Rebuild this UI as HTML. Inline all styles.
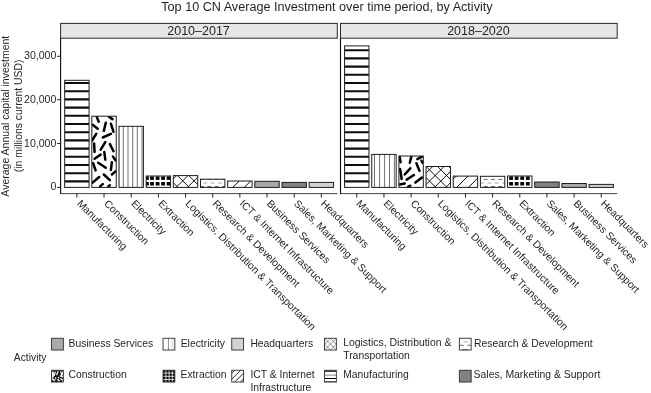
<!DOCTYPE html>
<html><head><meta charset="utf-8"><title>Top 10 CN Average Investment</title>
<style>
html,body{margin:0;padding:0;background:#fff;}
svg{display:block;}
text{font-family:"Liberation Sans",sans-serif;fill:#231f20;}
</style></head><body>
<svg width="651" height="393" viewBox="0 0 651 393">
<rect x="0" y="0" width="651" height="393" fill="#fff"/>

<text x="161.3" y="11.2" font-size="12.62">Top 10 CN Average Investment over time period, by Activity</text>
<text transform="translate(8.8,116.2) rotate(-90)" text-anchor="middle" font-size="10.5">Average Annual capital investment</text>
<text transform="translate(21.8,115.9) rotate(-90)" text-anchor="middle" font-size="10.4">(in millions current USD)</text>
<rect x="60.6" y="23.4" width="276.70" height="14.80" fill="#e6e6e6" stroke="#2a2a2a" stroke-width="1.0"/>
<text x="198.55" y="34.7" text-anchor="middle" font-size="12.5">2010–2017</text>
<line x1="60.6" x2="60.6" y1="38.2" y2="194.1" stroke="#0a0a0a" stroke-width="1.1"/>
<line x1="60.2" x2="337.3" y1="193.6" y2="193.6" stroke="#222" stroke-width="0.85"/>
<clipPath id="c0"><rect x="64.68" y="80.30" width="24.40" height="107.10"/></clipPath>
<rect x="64.68" y="80.30" width="24.40" height="107.10" fill="#fff"/>
<g clip-path="url(#c0)"><line x1="64.68" x2="89.08" y1="181.40" y2="181.40" stroke="#0d0d0d" stroke-width="2.1"/><line x1="64.68" x2="89.08" y1="173.20" y2="173.20" stroke="#0d0d0d" stroke-width="2.1"/><line x1="64.68" x2="89.08" y1="165.00" y2="165.00" stroke="#0d0d0d" stroke-width="2.1"/><line x1="64.68" x2="89.08" y1="156.80" y2="156.80" stroke="#0d0d0d" stroke-width="2.1"/><line x1="64.68" x2="89.08" y1="148.60" y2="148.60" stroke="#0d0d0d" stroke-width="2.1"/><line x1="64.68" x2="89.08" y1="140.40" y2="140.40" stroke="#0d0d0d" stroke-width="2.1"/><line x1="64.68" x2="89.08" y1="132.20" y2="132.20" stroke="#0d0d0d" stroke-width="2.1"/><line x1="64.68" x2="89.08" y1="124.00" y2="124.00" stroke="#0d0d0d" stroke-width="2.1"/><line x1="64.68" x2="89.08" y1="115.80" y2="115.80" stroke="#0d0d0d" stroke-width="2.1"/><line x1="64.68" x2="89.08" y1="107.60" y2="107.60" stroke="#0d0d0d" stroke-width="2.1"/><line x1="64.68" x2="89.08" y1="99.40" y2="99.40" stroke="#0d0d0d" stroke-width="2.1"/><line x1="64.68" x2="89.08" y1="91.20" y2="91.20" stroke="#0d0d0d" stroke-width="2.1"/><line x1="64.68" x2="89.08" y1="83.00" y2="83.00" stroke="#0d0d0d" stroke-width="2.1"/></g>
<rect x="64.68" y="80.30" width="24.40" height="107.10" fill="none" stroke="#1c1c1c" stroke-width="1.0"/>
<line x1="76.88" x2="76.88" y1="193.6" y2="197.5" stroke="#151515" stroke-width="0.95"/>
<text transform="translate(76.48,204.15) rotate(45)" font-size="10.38">Manufacturing</text>
<clipPath id="c1"><rect x="91.84" y="116.20" width="24.40" height="71.20"/></clipPath>
<rect x="91.84" y="116.20" width="24.40" height="71.20" fill="#fff"/>
<g clip-path="url(#c1)"><line x1="96.7" y1="116.6" x2="98.7" y2="121.7" stroke="#000" stroke-width="2.5" stroke-linecap="round"/><line x1="108.9" y1="116.6" x2="112.5" y2="119.1" stroke="#000" stroke-width="2.5" stroke-linecap="round"/><line x1="92.6" y1="124.7" x2="97.7" y2="128.8" stroke="#000" stroke-width="2.5" stroke-linecap="round"/><line x1="105.8" y1="122.7" x2="103.8" y2="130.9" stroke="#000" stroke-width="2.5" stroke-linecap="round"/><line x1="110.9" y1="123.7" x2="113.5" y2="131.9" stroke="#000" stroke-width="2.5" stroke-linecap="round"/><line x1="96.2" y1="133.9" x2="92.1" y2="140.5" stroke="#000" stroke-width="2.5" stroke-linecap="round"/><line x1="102.8" y1="137.5" x2="110.9" y2="133.9" stroke="#000" stroke-width="2.5" stroke-linecap="round"/><line x1="105.3" y1="142.1" x2="100.7" y2="149.7" stroke="#000" stroke-width="2.5" stroke-linecap="round"/><line x1="109.9" y1="144.1" x2="113.5" y2="151.2" stroke="#000" stroke-width="2.5" stroke-linecap="round"/><line x1="94.1" y1="143.6" x2="94.6" y2="151.8" stroke="#000" stroke-width="2.5" stroke-linecap="round"/><line x1="104.3" y1="152" x2="105.3" y2="159.7" stroke="#000" stroke-width="2.5" stroke-linecap="round"/><line x1="94.6" y1="158.7" x2="100.7" y2="154.6" stroke="#000" stroke-width="2.5" stroke-linecap="round"/><line x1="113" y1="156.6" x2="115.5" y2="160.2" stroke="#000" stroke-width="2.5" stroke-linecap="round"/><line x1="93.1" y1="163.2" x2="95.6" y2="170.4" stroke="#000" stroke-width="2.5" stroke-linecap="round"/><line x1="98.2" y1="162.7" x2="105.8" y2="167.8" stroke="#000" stroke-width="2.5" stroke-linecap="round"/><line x1="111.9" y1="162.2" x2="110.9" y2="169.9" stroke="#000" stroke-width="2.5" stroke-linecap="round"/><line x1="111.9" y1="174.5" x2="115.5" y2="171.4" stroke="#000" stroke-width="2.5" stroke-linecap="round"/><line x1="103.8" y1="174.5" x2="109.9" y2="180.1" stroke="#000" stroke-width="2.5" stroke-linecap="round"/><line x1="92.6" y1="182.6" x2="99.2" y2="177" stroke="#000" stroke-width="2.5" stroke-linecap="round"/><line x1="100.2" y1="186.2" x2="102.8" y2="184.1" stroke="#000" stroke-width="2.5" stroke-linecap="round"/><line x1="108.4" y1="186.2" x2="109.9" y2="185.2" stroke="#000" stroke-width="2.5" stroke-linecap="round"/></g>
<rect x="91.84" y="116.20" width="24.40" height="71.20" fill="none" stroke="#1c1c1c" stroke-width="1.0"/>
<line x1="104.04" x2="104.04" y1="193.6" y2="197.5" stroke="#151515" stroke-width="0.95"/>
<text transform="translate(103.57,204.15) rotate(45)" font-size="10.38">Construction</text>
<clipPath id="c2"><rect x="119.01" y="126.30" width="24.40" height="61.10"/></clipPath>
<rect x="119.01" y="126.30" width="24.40" height="61.10" fill="#fff"/>
<g clip-path="url(#c2)"><line x1="118.6" x2="118.6" y1="126.3" y2="187.4" stroke="#5a5a5a" stroke-width="0.85"/><line x1="123.3" x2="123.3" y1="126.3" y2="187.4" stroke="#5a5a5a" stroke-width="0.85"/><line x1="128.0" x2="128.0" y1="126.3" y2="187.4" stroke="#5a5a5a" stroke-width="0.85"/><line x1="132.7" x2="132.7" y1="126.3" y2="187.4" stroke="#5a5a5a" stroke-width="0.85"/><line x1="137.3" x2="137.3" y1="126.3" y2="187.4" stroke="#5a5a5a" stroke-width="0.85"/><line x1="142.0" x2="142.0" y1="126.3" y2="187.4" stroke="#5a5a5a" stroke-width="0.85"/></g>
<rect x="119.01" y="126.30" width="24.40" height="61.10" fill="none" stroke="#1c1c1c" stroke-width="1.0"/>
<line x1="131.21" x2="131.21" y1="193.6" y2="197.5" stroke="#151515" stroke-width="0.95"/>
<text transform="translate(130.67,204.15) rotate(45)" font-size="10.38">Electricity</text>
<clipPath id="c3"><rect x="146.18" y="176.00" width="24.40" height="11.40"/></clipPath>
<rect x="146.18" y="176.00" width="24.40" height="11.40" fill="#fff"/>
<g clip-path="url(#c3)"><rect x="145.0" y="176.4" width="3.8" height="3.5" fill="#000"/><rect x="145.0" y="182.0" width="3.8" height="3.5" fill="#000"/><rect x="150.1" y="176.4" width="3.8" height="3.5" fill="#000"/><rect x="150.1" y="182.0" width="3.8" height="3.5" fill="#000"/><rect x="155.7" y="176.4" width="3.8" height="3.5" fill="#000"/><rect x="155.7" y="182.0" width="3.8" height="3.5" fill="#000"/><rect x="161.2" y="176.4" width="3.8" height="3.5" fill="#000"/><rect x="161.2" y="182.0" width="3.8" height="3.5" fill="#000"/><rect x="166.7" y="176.4" width="3.8" height="3.5" fill="#000"/><rect x="166.7" y="182.0" width="3.8" height="3.5" fill="#000"/></g>
<rect x="146.18" y="176.00" width="24.40" height="11.40" fill="none" stroke="#1c1c1c" stroke-width="1.0"/>
<line x1="158.38" x2="158.38" y1="193.6" y2="197.5" stroke="#151515" stroke-width="0.95"/>
<text transform="translate(157.76,204.15) rotate(45)" font-size="10.38">Extraction</text>
<clipPath id="c4"><rect x="173.34" y="175.60" width="24.40" height="11.80"/></clipPath>
<rect x="173.34" y="175.60" width="24.40" height="11.80" fill="#fff"/>
<g clip-path="url(#c4)"><line x1="159.80" y1="192.40" x2="181.60" y2="170.60" stroke="#050505" stroke-width="0.95"/><line x1="171.10" y1="192.40" x2="192.90" y2="170.60" stroke="#050505" stroke-width="0.95"/><line x1="182.40" y1="192.40" x2="204.20" y2="170.60" stroke="#050505" stroke-width="0.95"/><line x1="193.70" y1="192.40" x2="215.50" y2="170.60" stroke="#050505" stroke-width="0.95"/><line x1="161.20" y1="170.60" x2="183.00" y2="192.40" stroke="#050505" stroke-width="0.95"/><line x1="172.50" y1="170.60" x2="194.30" y2="192.40" stroke="#050505" stroke-width="0.95"/><line x1="183.80" y1="170.60" x2="205.60" y2="192.40" stroke="#050505" stroke-width="0.95"/><line x1="195.10" y1="170.60" x2="216.90" y2="192.40" stroke="#050505" stroke-width="0.95"/><line x1="206.40" y1="170.60" x2="228.20" y2="192.40" stroke="#050505" stroke-width="0.95"/></g>
<rect x="173.34" y="175.60" width="24.40" height="11.80" fill="none" stroke="#1c1c1c" stroke-width="1.0"/>
<line x1="185.54" x2="185.54" y1="193.6" y2="197.5" stroke="#151515" stroke-width="0.95"/>
<text transform="translate(184.86,204.15) rotate(45)" font-size="10.5">Logistics, Distribution &amp; Transportation</text>
<clipPath id="c5"><rect x="200.50" y="179.20" width="24.40" height="8.20"/></clipPath>
<rect x="200.50" y="179.20" width="24.40" height="8.20" fill="#fff"/>
<g clip-path="url(#c5)"><line x1="188.80" x2="192.60" y1="183" y2="183" stroke="#c4c4c4" stroke-width="1.7"/><line x1="192.90" x2="196.70" y1="179.4" y2="179.4" stroke="#444" stroke-width="0.8"/><line x1="192.90" x2="196.70" y1="186.5" y2="186.5" stroke="#444" stroke-width="0.8"/><line x1="196.10" x2="199.90" y1="183" y2="183" stroke="#c4c4c4" stroke-width="1.7"/><line x1="200.20" x2="204.00" y1="179.4" y2="179.4" stroke="#444" stroke-width="0.8"/><line x1="200.20" x2="204.00" y1="186.5" y2="186.5" stroke="#444" stroke-width="0.8"/><line x1="203.40" x2="207.20" y1="183" y2="183" stroke="#c4c4c4" stroke-width="1.7"/><line x1="207.50" x2="211.30" y1="179.4" y2="179.4" stroke="#444" stroke-width="0.8"/><line x1="207.50" x2="211.30" y1="186.5" y2="186.5" stroke="#444" stroke-width="0.8"/><line x1="210.70" x2="214.50" y1="183" y2="183" stroke="#c4c4c4" stroke-width="1.7"/><line x1="214.80" x2="218.60" y1="179.4" y2="179.4" stroke="#444" stroke-width="0.8"/><line x1="214.80" x2="218.60" y1="186.5" y2="186.5" stroke="#444" stroke-width="0.8"/><line x1="218.00" x2="221.80" y1="183" y2="183" stroke="#c4c4c4" stroke-width="1.7"/><line x1="222.10" x2="225.90" y1="179.4" y2="179.4" stroke="#444" stroke-width="0.8"/><line x1="222.10" x2="225.90" y1="186.5" y2="186.5" stroke="#444" stroke-width="0.8"/><line x1="225.30" x2="229.10" y1="183" y2="183" stroke="#c4c4c4" stroke-width="1.7"/><line x1="229.40" x2="233.20" y1="179.4" y2="179.4" stroke="#444" stroke-width="0.8"/><line x1="229.40" x2="233.20" y1="186.5" y2="186.5" stroke="#444" stroke-width="0.8"/><line x1="232.60" x2="236.40" y1="183" y2="183" stroke="#c4c4c4" stroke-width="1.7"/><line x1="236.70" x2="240.50" y1="179.4" y2="179.4" stroke="#444" stroke-width="0.8"/><line x1="236.70" x2="240.50" y1="186.5" y2="186.5" stroke="#444" stroke-width="0.8"/><line x1="239.90" x2="243.70" y1="183" y2="183" stroke="#c4c4c4" stroke-width="1.7"/><line x1="244.00" x2="247.80" y1="179.4" y2="179.4" stroke="#444" stroke-width="0.8"/><line x1="244.00" x2="247.80" y1="186.5" y2="186.5" stroke="#444" stroke-width="0.8"/></g>
<rect x="200.50" y="179.20" width="24.40" height="8.20" fill="none" stroke="#1c1c1c" stroke-width="1.0"/>
<line x1="212.70" x2="212.70" y1="193.6" y2="197.5" stroke="#151515" stroke-width="0.95"/>
<text transform="translate(211.95,204.15) rotate(45)" font-size="10.38">Research &amp; Development</text>
<clipPath id="c6"><rect x="227.67" y="181.00" width="24.40" height="6.40"/></clipPath>
<rect x="227.67" y="181.00" width="24.40" height="6.40" fill="#fff"/>
<g clip-path="url(#c6)"><line x1="216.30" y1="192.40" x2="232.70" y2="176.00" stroke="#050505" stroke-width="1.0"/><line x1="227.80" y1="192.40" x2="244.20" y2="176.00" stroke="#050505" stroke-width="1.0"/><line x1="239.30" y1="192.40" x2="255.70" y2="176.00" stroke="#050505" stroke-width="1.0"/><line x1="250.80" y1="192.40" x2="267.20" y2="176.00" stroke="#050505" stroke-width="1.0"/></g>
<rect x="227.67" y="181.00" width="24.40" height="6.40" fill="none" stroke="#1c1c1c" stroke-width="1.0"/>
<line x1="239.87" x2="239.87" y1="193.6" y2="197.5" stroke="#151515" stroke-width="0.95"/>
<text transform="translate(239.05,204.15) rotate(45)" font-size="10.38">ICT &amp; Internet Infrastructure</text>
<clipPath id="c7"><rect x="254.83" y="181.30" width="24.40" height="6.10"/></clipPath>
<rect x="254.83" y="181.30" width="24.40" height="6.10" fill="#a8a9ad"/>
<rect x="254.83" y="181.30" width="24.40" height="6.10" fill="none" stroke="#1c1c1c" stroke-width="1.0"/>
<line x1="267.03" x2="267.03" y1="193.6" y2="197.5" stroke="#151515" stroke-width="0.95"/>
<text transform="translate(266.14,204.15) rotate(45)" font-size="10.38">Business Services</text>
<clipPath id="c8"><rect x="282.00" y="182.40" width="24.40" height="5.00"/></clipPath>
<rect x="282.00" y="182.40" width="24.40" height="5.00" fill="#818286"/>
<rect x="282.00" y="182.40" width="24.40" height="5.00" fill="none" stroke="#1c1c1c" stroke-width="1.0"/>
<line x1="294.20" x2="294.20" y1="193.6" y2="197.5" stroke="#151515" stroke-width="0.95"/>
<text transform="translate(293.24,204.15) rotate(45)" font-size="10.38">Sales, Marketing &amp; Support</text>
<clipPath id="c9"><rect x="309.17" y="182.40" width="24.40" height="5.00"/></clipPath>
<rect x="309.17" y="182.40" width="24.40" height="5.00" fill="#d1d3d4"/>
<rect x="309.17" y="182.40" width="24.40" height="5.00" fill="none" stroke="#1c1c1c" stroke-width="1.0"/>
<line x1="321.37" x2="321.37" y1="193.6" y2="197.5" stroke="#151515" stroke-width="0.95"/>
<text transform="translate(320.34,204.15) rotate(45)" font-size="10.38">Headquarters</text>
<rect x="340.5" y="23.4" width="276.70" height="14.80" fill="#e6e6e6" stroke="#2a2a2a" stroke-width="1.0"/>
<text x="478.45" y="34.7" text-anchor="middle" font-size="12.5">2018–2020</text>
<line x1="340.5" x2="340.5" y1="38.2" y2="194.1" stroke="#0a0a0a" stroke-width="1.1"/>
<line x1="340.1" x2="617.2" y1="193.6" y2="193.6" stroke="#222" stroke-width="0.85"/>
<clipPath id="c10"><rect x="344.58" y="45.90" width="24.40" height="141.50"/></clipPath>
<rect x="344.58" y="45.90" width="24.40" height="141.50" fill="#fff"/>
<g clip-path="url(#c10)"><line x1="344.58" x2="368.98" y1="181.40" y2="181.40" stroke="#0d0d0d" stroke-width="2.1"/><line x1="344.58" x2="368.98" y1="173.20" y2="173.20" stroke="#0d0d0d" stroke-width="2.1"/><line x1="344.58" x2="368.98" y1="165.00" y2="165.00" stroke="#0d0d0d" stroke-width="2.1"/><line x1="344.58" x2="368.98" y1="156.80" y2="156.80" stroke="#0d0d0d" stroke-width="2.1"/><line x1="344.58" x2="368.98" y1="148.60" y2="148.60" stroke="#0d0d0d" stroke-width="2.1"/><line x1="344.58" x2="368.98" y1="140.40" y2="140.40" stroke="#0d0d0d" stroke-width="2.1"/><line x1="344.58" x2="368.98" y1="132.20" y2="132.20" stroke="#0d0d0d" stroke-width="2.1"/><line x1="344.58" x2="368.98" y1="124.00" y2="124.00" stroke="#0d0d0d" stroke-width="2.1"/><line x1="344.58" x2="368.98" y1="115.80" y2="115.80" stroke="#0d0d0d" stroke-width="2.1"/><line x1="344.58" x2="368.98" y1="107.60" y2="107.60" stroke="#0d0d0d" stroke-width="2.1"/><line x1="344.58" x2="368.98" y1="99.40" y2="99.40" stroke="#0d0d0d" stroke-width="2.1"/><line x1="344.58" x2="368.98" y1="91.20" y2="91.20" stroke="#0d0d0d" stroke-width="2.1"/><line x1="344.58" x2="368.98" y1="83.00" y2="83.00" stroke="#0d0d0d" stroke-width="2.1"/><line x1="344.58" x2="368.98" y1="74.80" y2="74.80" stroke="#0d0d0d" stroke-width="2.1"/><line x1="344.58" x2="368.98" y1="66.60" y2="66.60" stroke="#0d0d0d" stroke-width="2.1"/><line x1="344.58" x2="368.98" y1="58.40" y2="58.40" stroke="#0d0d0d" stroke-width="2.1"/><line x1="344.58" x2="368.98" y1="50.20" y2="50.20" stroke="#0d0d0d" stroke-width="2.1"/></g>
<rect x="344.58" y="45.90" width="24.40" height="141.50" fill="none" stroke="#1c1c1c" stroke-width="1.0"/>
<line x1="356.78" x2="356.78" y1="193.6" y2="197.5" stroke="#151515" stroke-width="0.95"/>
<text transform="translate(355.78,204.15) rotate(45)" font-size="10.38">Manufacturing</text>
<clipPath id="c11"><rect x="371.75" y="154.40" width="24.40" height="33.00"/></clipPath>
<rect x="371.75" y="154.40" width="24.40" height="33.00" fill="#fff"/>
<g clip-path="url(#c11)"><line x1="374.5" x2="374.5" y1="154.4" y2="187.4" stroke="#5a5a5a" stroke-width="0.85"/><line x1="379.6" x2="379.6" y1="154.4" y2="187.4" stroke="#5a5a5a" stroke-width="0.85"/><line x1="384.6" x2="384.6" y1="154.4" y2="187.4" stroke="#5a5a5a" stroke-width="0.85"/><line x1="389.5" x2="389.5" y1="154.4" y2="187.4" stroke="#5a5a5a" stroke-width="0.85"/><line x1="394.4" x2="394.4" y1="154.4" y2="187.4" stroke="#5a5a5a" stroke-width="0.85"/></g>
<rect x="371.75" y="154.40" width="24.40" height="33.00" fill="none" stroke="#1c1c1c" stroke-width="1.0"/>
<line x1="383.94" x2="383.94" y1="193.6" y2="197.5" stroke="#151515" stroke-width="0.95"/>
<text transform="translate(382.94,204.15) rotate(45)" font-size="10.38">Electricity</text>
<clipPath id="c12"><rect x="398.91" y="156.00" width="24.40" height="31.40"/></clipPath>
<rect x="398.91" y="156.00" width="24.40" height="31.40" fill="#fff"/>
<g clip-path="url(#c12)"><line x1="399.6" y1="156.6" x2="400.6" y2="162.2" stroke="#000" stroke-width="2.5" stroke-linecap="round"/><line x1="411.3" y1="156.6" x2="409.8" y2="162.7" stroke="#000" stroke-width="2.5" stroke-linecap="round"/><line x1="417.4" y1="159.2" x2="422" y2="156.6" stroke="#000" stroke-width="2.5" stroke-linecap="round"/><line x1="416.4" y1="163.2" x2="419.5" y2="170.9" stroke="#000" stroke-width="2.5" stroke-linecap="round"/><line x1="421.5" y1="160.7" x2="422.5" y2="162.7" stroke="#000" stroke-width="2.5" stroke-linecap="round"/><line x1="410.3" y1="168.3" x2="404.7" y2="174.5" stroke="#000" stroke-width="2.5" stroke-linecap="round"/><line x1="400.1" y1="168.9" x2="401.6" y2="179" stroke="#000" stroke-width="2.5" stroke-linecap="round"/><line x1="413.9" y1="175" x2="406.7" y2="179.6" stroke="#000" stroke-width="2.5" stroke-linecap="round"/><line x1="422" y1="177.5" x2="415.4" y2="182.6" stroke="#000" stroke-width="2.5" stroke-linecap="round"/><line x1="399.6" y1="184.6" x2="404.7" y2="183.6" stroke="#000" stroke-width="2.5" stroke-linecap="round"/><line x1="408.3" y1="186.7" x2="410.3" y2="185.7" stroke="#000" stroke-width="2.5" stroke-linecap="round"/></g>
<rect x="398.91" y="156.00" width="24.40" height="31.40" fill="none" stroke="#1c1c1c" stroke-width="1.0"/>
<line x1="411.11" x2="411.11" y1="193.6" y2="197.5" stroke="#151515" stroke-width="0.95"/>
<text transform="translate(410.11,204.15) rotate(45)" font-size="10.38">Construction</text>
<clipPath id="c13"><rect x="426.07" y="166.50" width="24.40" height="20.90"/></clipPath>
<rect x="426.07" y="166.50" width="24.40" height="20.90" fill="#fff"/>
<g clip-path="url(#c13)"><line x1="395.50" y1="192.40" x2="426.40" y2="161.50" stroke="#050505" stroke-width="0.95"/><line x1="406.80" y1="192.40" x2="437.70" y2="161.50" stroke="#050505" stroke-width="0.95"/><line x1="418.20" y1="192.40" x2="449.10" y2="161.50" stroke="#050505" stroke-width="0.95"/><line x1="429.50" y1="192.40" x2="460.40" y2="161.50" stroke="#050505" stroke-width="0.95"/><line x1="440.80" y1="192.40" x2="471.70" y2="161.50" stroke="#050505" stroke-width="0.95"/><line x1="443.80" y1="161.50" x2="474.70" y2="192.40" stroke="#050505" stroke-width="0.95"/><line x1="432.50" y1="161.50" x2="463.40" y2="192.40" stroke="#050505" stroke-width="0.95"/><line x1="421.10" y1="161.50" x2="452.00" y2="192.40" stroke="#050505" stroke-width="0.95"/><line x1="409.90" y1="161.50" x2="440.80" y2="192.40" stroke="#050505" stroke-width="0.95"/><line x1="398.60" y1="161.50" x2="429.50" y2="192.40" stroke="#050505" stroke-width="0.95"/></g>
<rect x="426.07" y="166.50" width="24.40" height="20.90" fill="none" stroke="#1c1c1c" stroke-width="1.0"/>
<line x1="438.27" x2="438.27" y1="193.6" y2="197.5" stroke="#151515" stroke-width="0.95"/>
<text transform="translate(437.27,204.15) rotate(45)" font-size="10.5">Logistics, Distribution &amp; Transportation</text>
<clipPath id="c14"><rect x="453.24" y="176.10" width="24.40" height="11.30"/></clipPath>
<rect x="453.24" y="176.10" width="24.40" height="11.30" fill="#fff"/>
<g clip-path="url(#c14)"><line x1="439.95" y1="192.40" x2="461.25" y2="171.10" stroke="#050505" stroke-width="1.0"/><line x1="451.70" y1="192.40" x2="473.00" y2="171.10" stroke="#050505" stroke-width="1.0"/><line x1="463.40" y1="192.40" x2="484.70" y2="171.10" stroke="#050505" stroke-width="1.0"/><line x1="475.15" y1="192.40" x2="496.45" y2="171.10" stroke="#050505" stroke-width="1.0"/></g>
<rect x="453.24" y="176.10" width="24.40" height="11.30" fill="none" stroke="#1c1c1c" stroke-width="1.0"/>
<line x1="465.44" x2="465.44" y1="193.6" y2="197.5" stroke="#151515" stroke-width="0.95"/>
<text transform="translate(464.44,204.15) rotate(45)" font-size="10.38">ICT &amp; Internet Infrastructure</text>
<clipPath id="c15"><rect x="480.40" y="176.30" width="24.40" height="11.10"/></clipPath>
<rect x="480.40" y="176.30" width="24.40" height="11.10" fill="#fff"/>
<g clip-path="url(#c15)"><line x1="472.90" x2="476.70" y1="183" y2="183" stroke="#c4c4c4" stroke-width="1.7"/><line x1="469.20" x2="473.00" y1="179.4" y2="179.4" stroke="#444" stroke-width="0.8"/><line x1="469.20" x2="473.00" y1="186.5" y2="186.5" stroke="#444" stroke-width="0.8"/><line x1="480.20" x2="484.00" y1="183" y2="183" stroke="#c4c4c4" stroke-width="1.7"/><line x1="476.50" x2="480.30" y1="179.4" y2="179.4" stroke="#444" stroke-width="0.8"/><line x1="476.50" x2="480.30" y1="186.5" y2="186.5" stroke="#444" stroke-width="0.8"/><line x1="487.50" x2="491.30" y1="183" y2="183" stroke="#c4c4c4" stroke-width="1.7"/><line x1="483.80" x2="487.60" y1="179.4" y2="179.4" stroke="#444" stroke-width="0.8"/><line x1="483.80" x2="487.60" y1="186.5" y2="186.5" stroke="#444" stroke-width="0.8"/><line x1="494.80" x2="498.60" y1="183" y2="183" stroke="#c4c4c4" stroke-width="1.7"/><line x1="491.10" x2="494.90" y1="179.4" y2="179.4" stroke="#444" stroke-width="0.8"/><line x1="491.10" x2="494.90" y1="186.5" y2="186.5" stroke="#444" stroke-width="0.8"/><line x1="502.10" x2="505.90" y1="183" y2="183" stroke="#c4c4c4" stroke-width="1.7"/><line x1="498.40" x2="502.20" y1="179.4" y2="179.4" stroke="#444" stroke-width="0.8"/><line x1="498.40" x2="502.20" y1="186.5" y2="186.5" stroke="#444" stroke-width="0.8"/><line x1="509.40" x2="513.20" y1="183" y2="183" stroke="#c4c4c4" stroke-width="1.7"/><line x1="505.70" x2="509.50" y1="179.4" y2="179.4" stroke="#444" stroke-width="0.8"/><line x1="505.70" x2="509.50" y1="186.5" y2="186.5" stroke="#444" stroke-width="0.8"/><line x1="516.70" x2="520.50" y1="183" y2="183" stroke="#c4c4c4" stroke-width="1.7"/><line x1="513.00" x2="516.80" y1="179.4" y2="179.4" stroke="#444" stroke-width="0.8"/><line x1="513.00" x2="516.80" y1="186.5" y2="186.5" stroke="#444" stroke-width="0.8"/><line x1="524.00" x2="527.80" y1="183" y2="183" stroke="#c4c4c4" stroke-width="1.7"/><line x1="520.30" x2="524.10" y1="179.4" y2="179.4" stroke="#444" stroke-width="0.8"/><line x1="520.30" x2="524.10" y1="186.5" y2="186.5" stroke="#444" stroke-width="0.8"/></g>
<rect x="480.40" y="176.30" width="24.40" height="11.10" fill="none" stroke="#1c1c1c" stroke-width="1.0"/>
<line x1="492.60" x2="492.60" y1="193.6" y2="197.5" stroke="#151515" stroke-width="0.95"/>
<text transform="translate(491.60,204.15) rotate(45)" font-size="10.38">Research &amp; Development</text>
<clipPath id="c16"><rect x="507.57" y="176.00" width="24.40" height="11.40"/></clipPath>
<rect x="507.57" y="176.00" width="24.40" height="11.40" fill="#fff"/>
<g clip-path="url(#c16)"><rect x="509.2" y="176.4" width="3.8" height="3.5" fill="#000"/><rect x="509.2" y="182.0" width="3.8" height="3.5" fill="#000"/><rect x="514.7" y="176.4" width="3.8" height="3.5" fill="#000"/><rect x="514.7" y="182.0" width="3.8" height="3.5" fill="#000"/><rect x="520.3" y="176.4" width="3.8" height="3.5" fill="#000"/><rect x="520.3" y="182.0" width="3.8" height="3.5" fill="#000"/><rect x="525.9" y="176.4" width="3.8" height="3.5" fill="#000"/><rect x="525.9" y="182.0" width="3.8" height="3.5" fill="#000"/></g>
<rect x="507.57" y="176.00" width="24.40" height="11.40" fill="none" stroke="#1c1c1c" stroke-width="1.0"/>
<line x1="519.77" x2="519.77" y1="193.6" y2="197.5" stroke="#151515" stroke-width="0.95"/>
<text transform="translate(518.77,204.15) rotate(45)" font-size="10.38">Extraction</text>
<clipPath id="c17"><rect x="534.73" y="182.00" width="24.40" height="5.40"/></clipPath>
<rect x="534.73" y="182.00" width="24.40" height="5.40" fill="#818286"/>
<rect x="534.73" y="182.00" width="24.40" height="5.40" fill="none" stroke="#1c1c1c" stroke-width="1.0"/>
<line x1="546.93" x2="546.93" y1="193.6" y2="197.5" stroke="#151515" stroke-width="0.95"/>
<text transform="translate(545.93,204.15) rotate(45)" font-size="10.38">Sales, Marketing &amp; Support</text>
<clipPath id="c18"><rect x="561.90" y="183.50" width="24.40" height="3.90"/></clipPath>
<rect x="561.90" y="183.50" width="24.40" height="3.90" fill="#a8a9ad"/>
<rect x="561.90" y="183.50" width="24.40" height="3.90" fill="none" stroke="#1c1c1c" stroke-width="1.0"/>
<line x1="574.10" x2="574.10" y1="193.6" y2="197.5" stroke="#151515" stroke-width="0.95"/>
<text transform="translate(573.10,204.15) rotate(45)" font-size="10.38">Business Services</text>
<clipPath id="c19"><rect x="589.06" y="184.40" width="24.40" height="3.00"/></clipPath>
<rect x="589.06" y="184.40" width="24.40" height="3.00" fill="#d1d3d4"/>
<rect x="589.06" y="184.40" width="24.40" height="3.00" fill="none" stroke="#1c1c1c" stroke-width="1.0"/>
<line x1="601.26" x2="601.26" y1="193.6" y2="197.5" stroke="#151515" stroke-width="0.95"/>
<text transform="translate(600.26,204.15) rotate(45)" font-size="10.38">Headquarters</text>
<line x1="57.0" x2="60.6" y1="187.4" y2="187.4" stroke="#151515" stroke-width="0.9"/>
<text x="56.35" y="189.90" text-anchor="end" font-size="10.55">0</text>
<line x1="57.0" x2="60.6" y1="143.5" y2="143.5" stroke="#151515" stroke-width="0.9"/>
<text x="56.35" y="146.90" text-anchor="end" font-size="10.55">10,000</text>
<line x1="57.0" x2="60.6" y1="99.7" y2="99.7" stroke="#151515" stroke-width="0.9"/>
<text x="56.35" y="102.90" text-anchor="end" font-size="10.55">20,000</text>
<line x1="57.0" x2="60.6" y1="56.3" y2="56.3" stroke="#151515" stroke-width="0.9"/>
<text x="56.35" y="58.90" text-anchor="end" font-size="10.55">30,000</text>
<text x="13.8" y="361.4" font-size="10.32">Activity</text>
<clipPath id="k20"><rect x="51.55" y="338.25" width="11.8" height="11.8"/></clipPath>
<rect x="51.55" y="338.25" width="11.8" height="11.8" fill="#a8a9ad"/>
<rect x="51.55" y="338.25" width="11.8" height="11.8" fill="none" stroke="#2e2e2e" stroke-width="0.9"/>
<text x="68.6" y="347.00" font-size="10.35">Business Services</text>
<clipPath id="k21"><rect x="51.55" y="370.25" width="11.8" height="11.8"/></clipPath>
<rect x="51.55" y="370.25" width="11.8" height="11.8" fill="#fff"/>
<g clip-path="url(#k21)"><rect x="51.55" y="370.25" width="11.8" height="11.8" fill="#0c0c0c"/><line x1="52.90" y1="371.60" x2="52.60" y2="377.70" stroke="#fff" stroke-width="2.1"/><line x1="55.40" y1="371.60" x2="54.20" y2="375.90" stroke="#fff" stroke-width="1.26"/><line x1="58.10" y1="371.30" x2="56.60" y2="375.30" stroke="#fff" stroke-width="1.26"/><line x1="60.60" y1="371.60" x2="61.80" y2="374.70" stroke="#fff" stroke-width="1.4"/><line x1="63.30" y1="371.30" x2="61.50" y2="376.20" stroke="#fff" stroke-width="1.4"/><line x1="59.70" y1="375.60" x2="63.30" y2="377.10" stroke="#fff" stroke-width="1.4"/><line x1="52.30" y1="378.70" x2="54.80" y2="380.80" stroke="#fff" stroke-width="1.68"/><line x1="56.00" y1="377.10" x2="55.40" y2="379.30" stroke="#fff" stroke-width="1.12"/><line x1="57.20" y1="379.30" x2="59.70" y2="381.40" stroke="#fff" stroke-width="1.4"/><line x1="60.30" y1="378.70" x2="62.70" y2="380.20" stroke="#fff" stroke-width="1.4"/><line x1="62.10" y1="381.40" x2="63.30" y2="381.70" stroke="#fff" stroke-width="1.12"/><line x1="58.10" y1="377.10" x2="59.30" y2="378.40" stroke="#fff" stroke-width="1.12"/></g>
<rect x="51.55" y="370.25" width="11.8" height="11.8" fill="none" stroke="#2e2e2e" stroke-width="0.9"/>
<text x="68.6" y="377.90" font-size="10.35">Construction</text>
<clipPath id="k22"><rect x="163.05" y="338.25" width="11.8" height="11.8"/></clipPath>
<rect x="163.05" y="338.25" width="11.8" height="11.8" fill="#fff"/>
<g clip-path="url(#k22)"><line x1="168.40" y1="338.25" x2="168.40" y2="350.05" stroke="#555" stroke-width="0.7"/><line x1="172.10" y1="338.25" x2="172.10" y2="350.05" stroke="#bbb" stroke-width="0.6"/><line x1="173.70" y1="338.25" x2="173.70" y2="350.05" stroke="#ddd" stroke-width="0.6"/></g>
<rect x="163.05" y="338.25" width="11.8" height="11.8" fill="none" stroke="#2e2e2e" stroke-width="0.9"/>
<text x="180.7" y="347.00" font-size="10.35">Electricity</text>
<clipPath id="k23"><rect x="163.05" y="370.25" width="11.8" height="11.8"/></clipPath>
<rect x="163.05" y="370.25" width="11.8" height="11.8" fill="#000"/>
<g clip-path="url(#k23)"><line x1="165.90" y1="370.25" x2="165.90" y2="382.05" stroke="#fff" stroke-width="0.8"/><line x1="163.05" y1="373.10" x2="174.85" y2="373.10" stroke="#fff" stroke-width="0.8"/><line x1="169.10" y1="370.25" x2="169.10" y2="382.05" stroke="#fff" stroke-width="0.8"/><line x1="163.05" y1="376.30" x2="174.85" y2="376.30" stroke="#fff" stroke-width="0.8"/><line x1="172.30" y1="370.25" x2="172.30" y2="382.05" stroke="#fff" stroke-width="0.8"/><line x1="163.05" y1="379.50" x2="174.85" y2="379.50" stroke="#fff" stroke-width="0.8"/></g>
<rect x="163.05" y="370.25" width="11.8" height="11.8" fill="none" stroke="#2e2e2e" stroke-width="0.9"/>
<text x="180.5" y="377.90" font-size="10.35">Extraction</text>
<clipPath id="k24"><rect x="231.75" y="338.25" width="11.8" height="11.8"/></clipPath>
<rect x="231.75" y="338.25" width="11.8" height="11.8" fill="#d1d3d4"/>
<rect x="231.75" y="338.25" width="11.8" height="11.8" fill="none" stroke="#2e2e2e" stroke-width="0.9"/>
<text x="250.4" y="347.00" font-size="10.35">Headquarters</text>
<clipPath id="k25"><rect x="231.75" y="370.25" width="11.8" height="11.8"/></clipPath>
<rect x="231.75" y="370.25" width="11.8" height="11.8" fill="#fff"/>
<g clip-path="url(#k25)"><line x1="218.95" y1="386.15" x2="238.95" y2="366.15" stroke="#1a1a1a" stroke-width="0.95"/><line x1="224.75" y1="386.15" x2="244.75" y2="366.15" stroke="#1a1a1a" stroke-width="0.95"/><line x1="230.55" y1="386.15" x2="250.55" y2="366.15" stroke="#1a1a1a" stroke-width="0.95"/><line x1="236.35" y1="386.15" x2="256.35" y2="366.15" stroke="#1a1a1a" stroke-width="0.95"/></g>
<rect x="231.75" y="370.25" width="11.8" height="11.8" fill="none" stroke="#2e2e2e" stroke-width="0.9"/>
<text x="250.4" y="378.20" font-size="10.35">ICT &amp; Internet</text>
<text x="250.4" y="391.00" font-size="10.35">Infrastructure</text>
<clipPath id="k26"><rect x="324.55" y="338.25" width="11.8" height="11.8"/></clipPath>
<rect x="324.55" y="338.25" width="11.8" height="11.8" fill="#fff"/>
<g clip-path="url(#k26)"><line x1="314.65" y1="334.15" x2="334.65" y2="354.15" stroke="#333" stroke-width="0.55"/><line x1="314.65" y1="354.15" x2="334.65" y2="334.15" stroke="#333" stroke-width="0.55"/><line x1="320.45" y1="334.15" x2="340.45" y2="354.15" stroke="#333" stroke-width="0.55"/><line x1="320.45" y1="354.15" x2="340.45" y2="334.15" stroke="#333" stroke-width="0.55"/><line x1="326.25" y1="334.15" x2="346.25" y2="354.15" stroke="#333" stroke-width="0.55"/><line x1="326.25" y1="354.15" x2="346.25" y2="334.15" stroke="#333" stroke-width="0.55"/></g>
<rect x="324.55" y="338.25" width="11.8" height="11.8" fill="none" stroke="#2e2e2e" stroke-width="0.9"/>
<text x="343.2" y="346.15" font-size="10.42">Logistics, Distribution &amp;</text>
<text x="343.2" y="358.75" font-size="10.42">Transportation</text>
<clipPath id="k27"><rect x="324.55" y="370.25" width="11.8" height="11.8"/></clipPath>
<rect x="324.55" y="370.25" width="11.8" height="11.8" fill="#fff"/>
<g clip-path="url(#k27)"><line x1="324.55" y1="371.10" x2="336.35" y2="371.10" stroke="#000" stroke-width="1.3"/><line x1="324.55" y1="375.10" x2="336.35" y2="375.10" stroke="#777" stroke-width="0.9"/><line x1="324.55" y1="378.50" x2="336.35" y2="378.50" stroke="#000" stroke-width="1.0"/><line x1="324.55" y1="381.80" x2="336.35" y2="381.80" stroke="#000" stroke-width="0.8"/></g>
<rect x="324.55" y="370.25" width="11.8" height="11.8" fill="none" stroke="#2e2e2e" stroke-width="0.9"/>
<text x="343.2" y="377.90" font-size="10.35">Manufacturing</text>
<clipPath id="k28"><rect x="459.35" y="338.25" width="11.8" height="11.8"/></clipPath>
<rect x="459.35" y="338.25" width="11.8" height="11.8" fill="#fff"/>
<g clip-path="url(#k28)"><line x1="463.40" y1="341.80" x2="467.70" y2="341.80" stroke="#c8c8c8" stroke-width="1.5"/><line x1="458.90" y1="345.30" x2="463.70" y2="345.30" stroke="#3a3a3a" stroke-width="0.75"/><line x1="467.40" y1="345.30" x2="471.60" y2="345.30" stroke="#3a3a3a" stroke-width="0.75"/><line x1="462.20" y1="349.70" x2="468.30" y2="349.70" stroke="#3a3a3a" stroke-width="0.8"/></g>
<rect x="459.35" y="338.25" width="11.8" height="11.8" fill="none" stroke="#2e2e2e" stroke-width="0.9"/>
<text x="474.0" y="347.00" font-size="10.42">Research &amp; Development</text>
<clipPath id="k29"><rect x="459.35" y="370.25" width="11.8" height="11.8"/></clipPath>
<rect x="459.35" y="370.25" width="11.8" height="11.8" fill="#818286"/>
<rect x="459.35" y="370.25" width="11.8" height="11.8" fill="none" stroke="#2e2e2e" stroke-width="0.9"/>
<text x="473.6" y="378.20" font-size="10.42">Sales, Marketing &amp; Support</text>
</svg></body></html>
